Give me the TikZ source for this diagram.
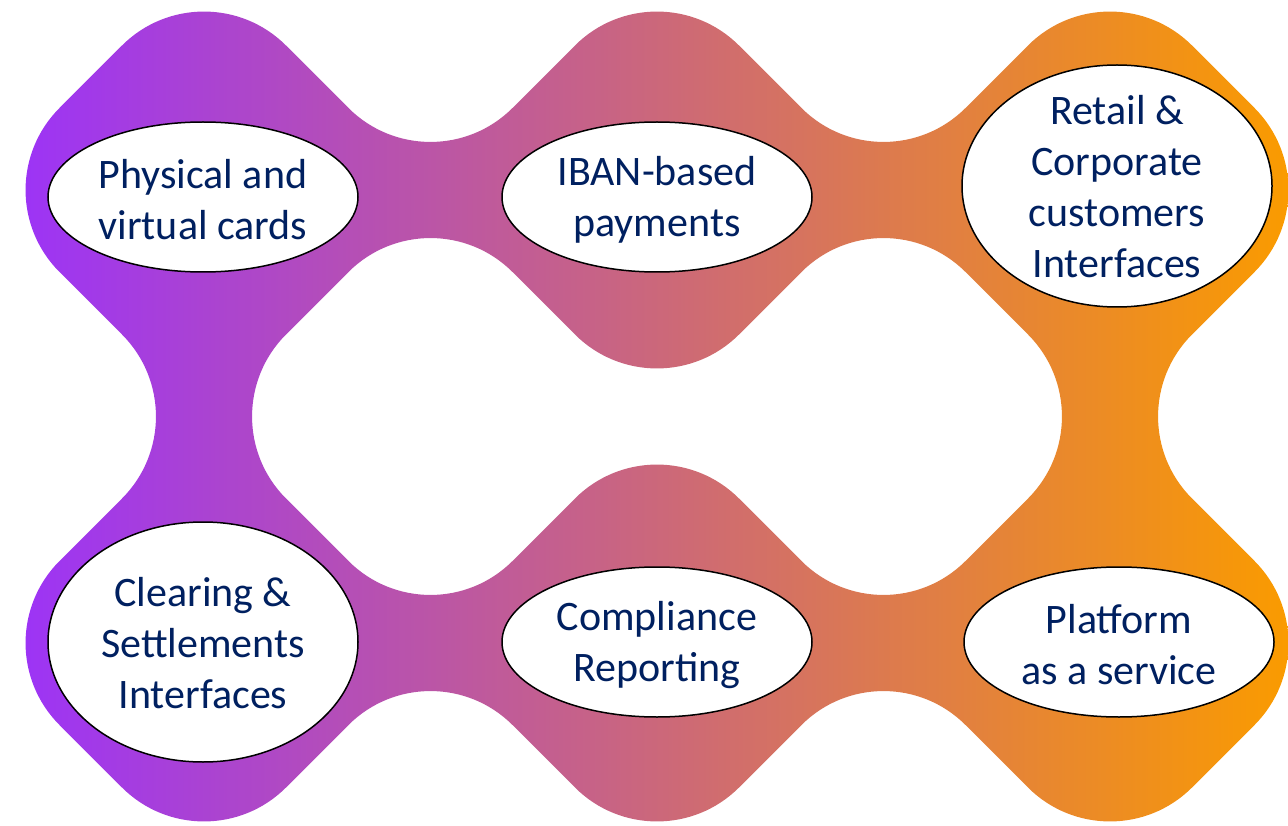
\documentclass[tikz,border=0pt]{standalone}
\usepackage{fontspec}
\setmainfont{Carlito}
\usetikzlibrary{shapes.geometric}
\definecolor{navy}{HTML}{002060}
\definecolor{gradL}{RGB}{155,50,250}
\definecolor{gradR}{RGB}{250,155,0}
\begin{document}
\begin{tikzpicture}[x=1pt,y=-1pt,
  bubble/.style={ellipse, draw=black, line width=1.5pt, fill=white, inner sep=0pt, minimum width=310pt},
  caption/.style={text=navy, align=center, inner sep=0pt, font=\fontsize{42}{51}\selectfont}]
\useasboundingbox (0,0) rectangle (1288,826);
\begin{scope}[even odd rule, rounded corners=116pt]
\clip
  (204,-36.5) -- (430.5,190) -- (657,-36.5) -- (883.5,190)
  -- (1110,-36.5) -- (1336.5,190) -- (1110,416.5) -- (1336.5,643) -- (1110,869.5)
  -- (883.5,643) -- (657,869.5) -- (430.5,643) -- (204,869.5) -- (-22.5,643)
  -- (204,416.5) -- (-22.5,190) -- cycle
  (430.5,190) -- (657,416.5) -- (883.5,190) -- (1110,416.5)
  -- (883.5,643) -- (657,416.5) -- (430.5,643) -- (204,416.5) -- cycle;
\shade[sharp corners, left color=gradL, right color=gradR] (0,0) rectangle (1288,826);
\end{scope}
\node[bubble, minimum height=150pt] (e1) at (203,197) {};
\node[caption] (t1) at ([yshift=-3pt]e1.center) {Physical and\\virtual cards};
\node[bubble, minimum height=150pt] (e2) at (657,197) {};
\node[caption] (t2) at ([yshift=-3pt]e2.center) {IBAN-based\\payments};
\node[bubble, minimum height=242pt] (e3) at (1117,186) {};
\node[caption] (t3) at ([yshift=-1pt]e3.center) {Retail \&\\Corporate\\customers\\Interfaces};
\node[bubble, minimum height=240pt] (e4) at (203,642) {};
\node[caption] (t4) at ([yshift=-1pt]e4.center) {Clearing \&\\Settlements\\Interfaces};
\node[bubble, minimum height=150pt] (e5) at (657,642) {};
\node[caption] (t5) at ([yshift=-3pt]e5.center) {Compliance\\Reporting};
\node[bubble, minimum height=150pt] (e6) at (1119,642) {};
\node[caption] (t6) at ([yshift=-3pt]e6.center) {Platform\\as a service};
\end{tikzpicture}
\end{document}
